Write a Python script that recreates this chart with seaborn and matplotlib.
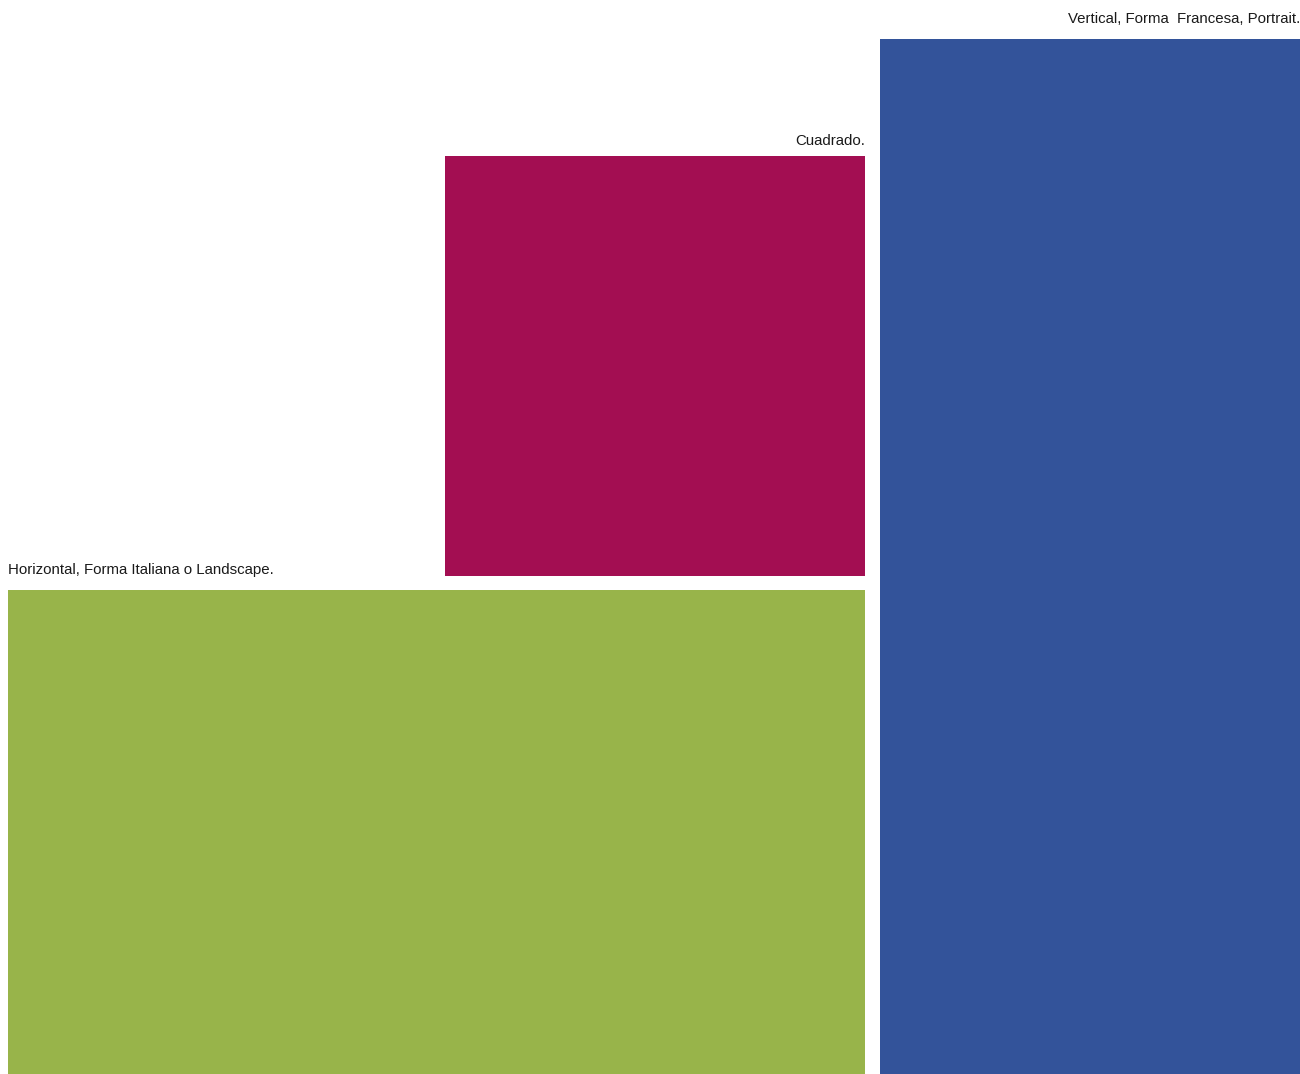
import matplotlib.pyplot as plt
import seaborn as sns
import pandas as pd

# rectangles, in pixel units of the page (y grows downward)
formats = ["Horizontal, Forma Italiana o Landscape.", "Cuadrado.", "Vertical, Forma  Francesa, Portrait."]
left = [8, 445, 880]
top = [590, 156, 39]
width = [857, 420, 420]
height = [484, 420, 1035]
colors = ["#98B44A", "#A30E52", "#33539A"]
label_gap = [16, 11, 16]

df = pd.DataFrame({"format": formats, "left": left, "top": top,
                   "width": width, "height": height, "color": colors})

sns.set_theme(style="white")
plt.rcParams['font.family'] = ['Liberation Sans', 'DejaVu Sans']

fig = plt.figure(figsize=(13, 10.74), dpi=100)
ax = fig.add_axes([0, 0, 1, 1])

ax.bar(df["left"], df["height"], width=df["width"], bottom=df["top"],
       align="edge", color=df["color"], linewidth=0)

ax.set_xlim(0, 1300)
ax.set_ylim(1074, 0)
ax.axis("off")

# labels above each rectangle
for i, row in df.iterrows():
    if i == 0:
        ax.text(row["left"], row["top"] - label_gap[i], row["format"], ha="left",
                va="baseline", fontsize=10.8, color="#1a1a1a")
    else:
        ax.text(row["left"] + row["width"], row["top"] - label_gap[i], row["format"],
                ha="right", va="baseline", fontsize=10.8, color="#1a1a1a")

fig.savefig("out.png", dpi=100)
